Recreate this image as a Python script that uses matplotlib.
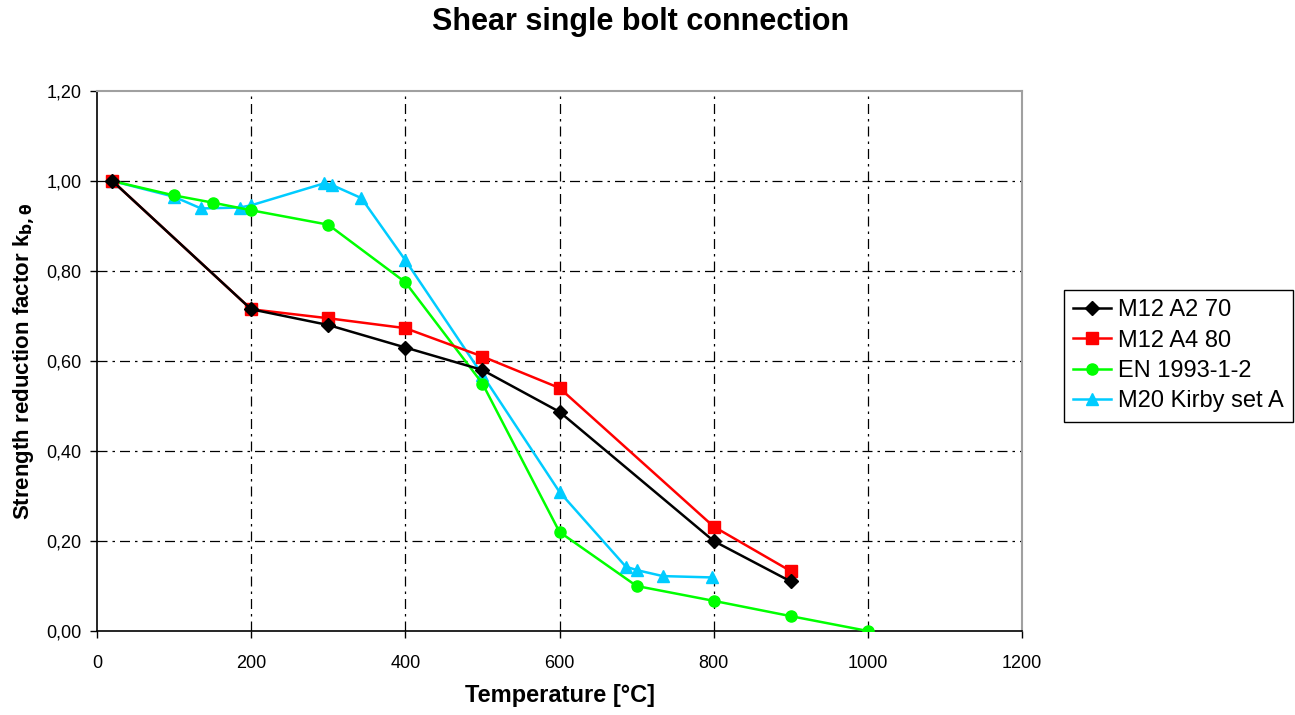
import matplotlib.pyplot as plt
from matplotlib.ticker import FuncFormatter

plt.rcParams['font.family'] = ['Liberation Sans', 'DejaVu Sans']

# M12 A2 70
t_a2 = [20, 200, 300, 400, 500, 600, 800, 900]
k_a2 = [1.0, 0.715, 0.68, 0.63, 0.58, 0.487, 0.20, 0.11]

# M12 A4 80
t_a4 = [20, 200, 300, 400, 500, 600, 800, 900]
k_a4 = [1.0, 0.715, 0.695, 0.673, 0.61, 0.54, 0.232, 0.133]

# EN 1993-1-2
t_en = [20, 100, 150, 200, 300, 400, 500, 600, 700, 800, 900, 1000]
k_en = [1.0, 0.968, 0.952, 0.935, 0.903, 0.775, 0.55, 0.22, 0.10, 0.067, 0.033, 0.0]

# M20 Kirby set A
t_kb = [20, 100, 135, 185, 200, 295, 305, 343, 400, 500, 600, 686, 701, 734, 798]
k_kb = [1.0, 0.965, 0.939, 0.941, 0.946, 0.995, 0.991, 0.962, 0.824, 0.569, 0.309, 0.143, 0.135, 0.122, 0.119]

fig = plt.figure(figsize=(12.95, 7.15), dpi=100)
ax = fig.add_axes([0.0749, 0.1175, 0.7143, 0.7552])

ax.plot(t_a2, k_a2, color='black', lw=1.8, marker='D', ms=7, label='M12 A2 70', zorder=5)
ax.plot(t_a4, k_a4, color='#ff0000', lw=1.8, marker='s', ms=9, label='M12 A4 80', zorder=4)
ax.plot(t_en, k_en, color='#00ff00', lw=1.8, marker='o', ms=8, label='EN 1993-1-2', zorder=3)
ax.plot(t_kb, k_kb, color='#00ccff', lw=1.8, marker='^', ms=9, label='M20 Kirby set A', zorder=2)

ax.set_xlim(0, 1200)
ax.set_ylim(0, 1.2)
ax.set_xticks(range(0, 1201, 200))
ax.set_yticks([0, 0.2, 0.4, 0.6, 0.8, 1.0, 1.2])
ax.yaxis.set_major_formatter(FuncFormatter(lambda v, p: f'{v:.2f}'.replace('.', ',')))
ax.tick_params(direction='out', length=5, width=1, labelsize=13, colors='black', pad=6)
ax.tick_params(axis='x', pad=12)

# dash-dot grid, only on the inner ticks
ax.grid(True, color='black', linestyle=(0, (8, 4, 2, 4)), linewidth=0.9)
ax.set_axisbelow(True)
for lines in (ax.xaxis.get_gridlines(), ax.yaxis.get_gridlines()):
    lines[0].set_visible(False)
    lines[-1].set_visible(False)

for side in ['top', 'right']:
    ax.spines[side].set_color('#a0a0a0')
    ax.spines[side].set_linewidth(1.5)
for side in ['left', 'bottom']:
    ax.spines[side].set_color('black')
    ax.spines[side].set_linewidth(1.2)

ax.set_xlabel('Temperature [°C]', fontsize=17, fontweight='bold', labelpad=9)
ax.set_ylabel(r'Strength reduction factor k$_{\mathbf{b,\theta}}$', fontsize=16, fontweight='bold', labelpad=7)
fig.suptitle('Shear single bolt connection', x=0.495, y=0.99, fontsize=22, fontweight='bold')

leg = fig.legend(loc='upper left', bbox_to_anchor=(0.8216, 0.5944), fontsize=17,
                 frameon=True, fancybox=False, edgecolor='black', framealpha=1,
                 handlelength=1.6, handletextpad=0.3, borderpad=0.4,
                 labelspacing=0.35, borderaxespad=0)
leg.get_frame().set_linewidth(1.0)

fig.savefig('out.png', dpi=100)
